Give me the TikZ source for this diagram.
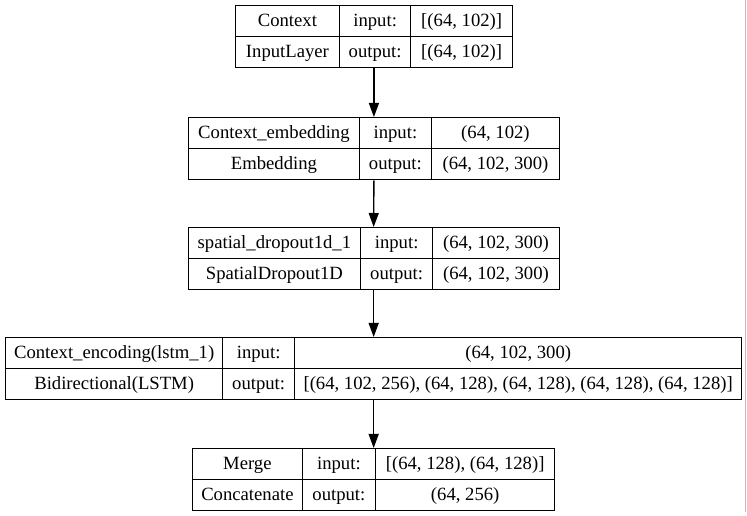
\documentclass[tikz,border=0pt]{standalone}
\usepackage{fontspec}
\setmainfont{Liberation Serif}
\usepackage{tikz}
\usetikzlibrary{arrows.meta}

\begin{document}
\begin{tikzpicture}[x=0.75pt,y=-0.75pt,
	cell/.style={draw, line width=1pt, inner sep=0pt, anchor=north west,
		minimum height=23.25pt, text height=10.5pt, text depth=2.5pt,
		font=\fontsize{14}{16}\selectfont},
	frame/.style={draw, line width=1pt, inner sep=0pt, anchor=north west,
		minimum height=46.5pt},
	link/.style={line width=1pt, -{Triangle[length=10.5pt,width=7.5pt]}}]

	\useasboundingbox (0,0) rectangle (747,516);
	\fill[white] (0,0) rectangle (747,516);
	\draw[black!25, line width=0.75pt] (745.5,0) -- (745.5,512);

	% input layer
	\node[frame, minimum width=208.125pt] (l1) at (234.5,5) {};
	\node[cell, minimum width=78.375pt] (l1n) at (234.5,5) {Context};
	\node[cell, minimum width=53.25pt] (l1i) at (339,5) {input:};
	\node[cell, minimum width=76.5pt] (l1iv) at (410,5) {[(64, 102)]};
	\node[cell, minimum width=78.375pt] (l1t) at (234.5,36) {InputLayer};
	\node[cell, minimum width=53.25pt] (l1o) at (339,36) {output:};
	\node[cell, minimum width=76.5pt] (l1ov) at (410,36) {[(64, 102)]};

	% embedding
	\node[frame, minimum width=277.875pt] (l2) at (188,117) {};
	\node[cell, minimum width=127.875pt] (l2n) at (188,117) {Context\_embedding};
	\node[cell, minimum width=54.375pt] (l2i) at (358.5,117) {input:};
	\node[cell, minimum width=95.625pt] (l2iv) at (431,117) {(64, 102)};
	\node[cell, minimum width=127.875pt] (l2t) at (188,148) {Embedding};
	\node[cell, minimum width=54.375pt] (l2o) at (358.5,148) {output:};
	\node[cell, minimum width=95.625pt] (l2ov) at (431,148) {(64, 102, 300)};

	% dropout
	\node[frame, minimum width=278.25pt] (l3) at (187.5,227) {};
	\node[cell, minimum width=129.375pt] (l3n) at (187.5,227) {spatial\_dropout1d\_1};
	\node[cell, minimum width=54pt] (l3i) at (360,227) {input:};
	\node[cell, minimum width=94.875pt] (l3iv) at (432,227) {(64, 102, 300)};
	\node[cell, minimum width=129.375pt] (l3t) at (187.5,258) {SpatialDropout1D};
	\node[cell, minimum width=54pt] (l3o) at (360,258) {output:};
	\node[cell, minimum width=94.875pt] (l3ov) at (432,258) {(64, 102, 300)};

	% encoding
	\node[frame, minimum width=552pt] (l4) at (5,337) {};
	\node[cell, minimum width=162.75pt] (l4n) at (5,337) {Context\_encoding(lstm\_1)};
	\node[cell, minimum width=54pt] (l4i) at (222,337) {input:};
	\node[cell, minimum width=335.25pt] (l4iv) at (294,337) {(64, 102, 300)};
	\node[cell, minimum width=162.75pt] (l4t) at (5,368) {Bidirectional(LSTM)};
	\node[cell, minimum width=54pt] (l4o) at (222,368) {output:};
	\node[cell, minimum width=335.25pt] (l4ov) at (294,368) {[(64, 102, 256), (64, 128), (64, 128), (64, 128), (64, 128)]};

	% merge
	\node[frame, minimum width=271.5pt] (l5) at (192,448) {};
	\node[cell, minimum width=82.125pt] (l5n) at (192,448) {Merge};
	\node[cell, minimum width=55.125pt] (l5i) at (301.5,448) {input:};
	\node[cell, minimum width=134.25pt] (l5iv) at (375,448) {[(64, 128), (64, 128)]};
	\node[cell, minimum width=82.125pt] (l5t) at (192,479) {Concatenate};
	\node[cell, minimum width=55.125pt] (l5o) at (301.5,479) {output:};
	\node[cell, minimum width=134.25pt] (l5ov) at (375,479) {(64, 256)};

	\draw[link] (l1.south) -- (l2.north);
	\draw[link] (l2.south) -- (l3.north);
	\draw[link] (l3.south) -- (l4.north);
	\draw[link] (l4.south) -- (l5.north);

\end{tikzpicture}
\end{document}
